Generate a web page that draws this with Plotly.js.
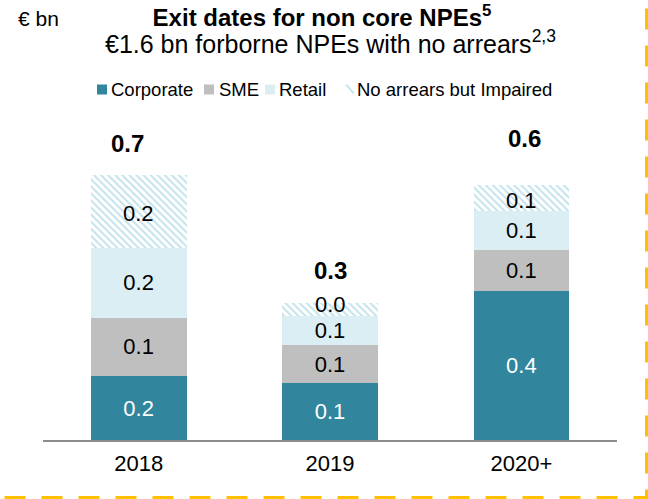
<!DOCTYPE html>
<html>
<head>
<meta charset="utf-8">
<script src="https://cdn.plot.ly/plotly-3.0.1.min.js"></script>
<style>html,body{margin:0;padding:0;background:#fff;}#chart{width:648px;height:499px;}</style>
</head>
<body>
<div id="chart"></div>
<script>
// ---- data ----
const categories = ['2018', '2019', '2020+'];
const corporate = [0.160, 0.142, 0.372];
const sme       = [0.146, 0.096, 0.103];
const retail    = [0.175, 0.073, 0.098];
const impaired  = [0.182, 0.031, 0.064];
const seriesNames = ['Corporate', 'SME', 'Retail', 'No arrears but Impaired'];
const unitLabel = '€ bn';
const titleText = 'Exit dates for non core NPEs<sup>5</sup>';
const subtitleText = '€1.6 bn forborne NPEs with no arrears<sup>2,3</sup>';

// ---- style ----
const FONT = 'Liberation Sans, Arial, sans-serif';
const W = 648, H = 499;
const M = {l: 43, r: 31, t: 110, b: 59};
const PW = W - M.l - M.r, PH = H - M.t - M.b;
const px = v => (v - M.l) / PW;          // pixel -> paper x
const py = v => (H - M.b - v) / PH;      // pixel -> paper y
const colors = ['#31859C', '#BFBFBF', '#DAEEF3', '#B7DEE8'];
const labelColors = ['#FFFFFF', '#000000', '#000000', '#000000'];

const seriesValues = [corporate, sme, retail, impaired];
const traces = seriesValues.map((vals, i) => {
  const marker = {color: colors[i], line: {width: 0}};
  const tr = {
    type: 'bar', x: categories, y: vals, name: seriesNames[i],
    marker: marker,
    texttemplate: '%{y:.1f}', textposition: 'inside', insidetextanchor: 'middle',
    textangle: 0, constraintext: 'none', cliponaxis: false,
    textfont: {family: FONT, size: 22, color: labelColors[i]},
    hoverinfo: 'skip', showlegend: false
  };
  if (i === 3) {
    marker.color = '#FFFFFF';
    marker.pattern = {shape: '\\', fgcolor: '#C2E3EC', bgcolor: '#FFFFFF', size: 5, solidity: 0.4, fillmode: 'replace'};
    tr.textposition = 'none';
    delete tr.texttemplate;
  }
  return tr;
});

const totals = categories.map((c, k) => seriesValues.reduce((s, arr) => s + arr[k], 0));
const totalShiftX = [-11, 0, 3];
const totalShiftY = [31, 33, 47];

const annotations = totals.map((t, k) => ({
  x: k, y: t, xref: 'x', yref: 'y',
  text: '<b>' + t.toFixed(1) + '</b>', showarrow: false,
  xanchor: 'center', yanchor: 'middle', xshift: totalShiftX[k], yshift: totalShiftY[k],
  font: {family: FONT, size: 24, color: '#000'}
}));

// labels of the hatched (top) segment
const impairedShiftY = [-2, 5, -2];
impaired.forEach((v, k) => {
  const base = corporate[k] + sme[k] + retail[k];
  annotations.push({
    x: k, y: base + v / 2, xref: 'x', yref: 'y',
    text: v.toFixed(1), showarrow: false, xanchor: 'center', yanchor: 'middle',
    yshift: impairedShiftY[k], font: {family: FONT, size: 22, color: '#000'}
  });
});

annotations.push({
  xref: 'paper', yref: 'paper', x: px(330), y: py(42), xanchor: 'center', yanchor: 'middle',
  text: subtitleText, showarrow: false, font: {family: FONT, size: 25, color: '#000'}
});
annotations.push({
  xref: 'paper', yref: 'paper', x: px(16), y: py(18), xanchor: 'left', yanchor: 'middle',
  text: unitLabel, showarrow: false, font: {family: FONT, size: 21, color: '#000'}
});

// manual legend
const legSquareX = [97, 204, 265, 345];
const legTextX = [109, 216.5, 276.5, 354.5];
const legY = 89.5;
const shapes = [];
seriesNames.forEach((n, i) => {
  annotations.push({
    xref: 'paper', yref: 'paper', x: px(legTextX[i]), y: py(legY), xanchor: 'left', yanchor: 'middle',
    text: n, showarrow: false, font: {family: FONT, size: 18.5, color: '#000'}
  });
  if (i < 3) {
    shapes.push({type: 'rect', xref: 'paper', yref: 'paper',
      x0: px(legSquareX[i]), x1: px(legSquareX[i] + 10), y0: py(legY - 5), y1: py(legY + 5),
      fillcolor: colors[i], line: {width: 0}});
  } else {
    shapes.push({type: 'line', xref: 'paper', yref: 'paper',
      x0: px(legSquareX[i] + 1), x1: px(legSquareX[i] + 9), y0: py(legY - 5), y1: py(legY + 4),
      line: {color: '#C9E6EF', width: 2}});
  }
});

// dashed frame (right and bottom)
const fx = px(646.5), fyTop = py(-28.5), fyBot = py(497.5), fxL = px(-10);
shapes.push({type: 'path', xref: 'paper', yref: 'paper',
  path: 'M ' + fx + ',' + fyTop + ' L ' + fx + ',' + fyBot + ' L ' + fxL + ',' + fyBot,
  line: {color: '#FFC000', width: 3, dash: '21px,16px'}, fillcolor: 'rgba(0,0,0,0)'});

const layout = {
  width: W, height: H,
  margin: M,
  paper_bgcolor: '#FFFFFF', plot_bgcolor: '#FFFFFF',
  barmode: 'stack', bargap: 0.5,
  uniformtext: {mode: 'show', minsize: 22},
  showlegend: false,
  title: {text: '<b>' + titleText + '</b>', x: 322 / W, xanchor: 'center', xref: 'container',
          y: 1 - 18 / H, yanchor: 'middle', yref: 'container',
          font: {family: FONT, size: 24, color: '#000'}},
  xaxis: {type: 'category', range: [-0.5, 2.5], showline: true, linecolor: '#8C8C8C', linewidth: 2,
          ticks: '', showgrid: false, zeroline: false, ticklabelstandoff: 3,
          tickfont: {family: FONT, size: 22, color: '#000'}},
  yaxis: {visible: false, range: [0, PH / 400], fixedrange: true},
  font: {family: FONT, color: '#000'},
  annotations: annotations,
  shapes: shapes
};

Plotly.newPlot('chart', traces, layout, {displayModeBar: false, staticPlot: true});
</script>
</body>
</html>
